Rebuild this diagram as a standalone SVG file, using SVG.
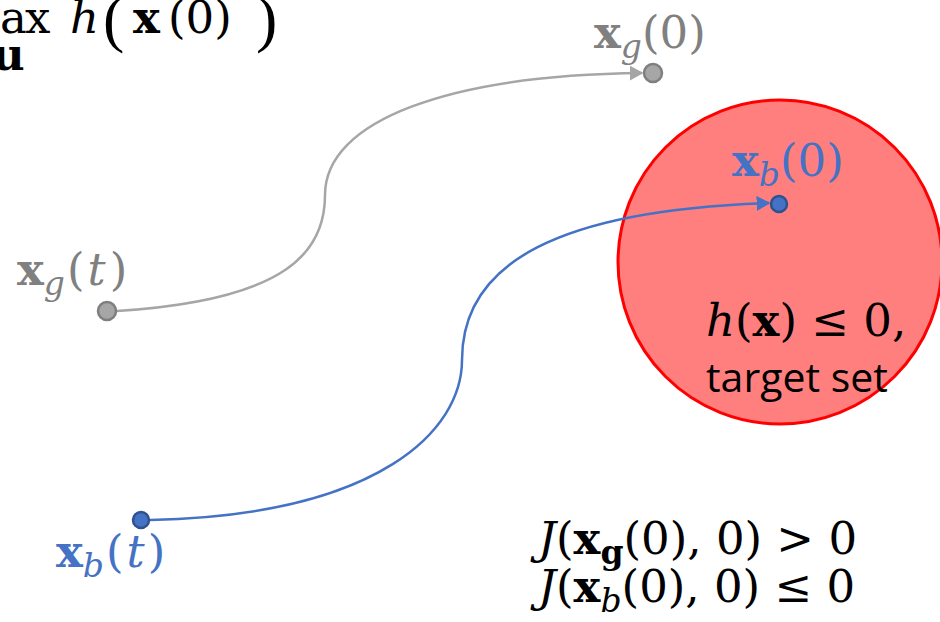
<svg xmlns="http://www.w3.org/2000/svg" width="940" height="622" viewBox="0 0 940 622">
<style>
.m{font-family:"DejaVu Serif","Liberation Serif",serif;font-size:45px}
.b{font-weight:bold;font-style:normal}
.i{font-style:italic}
.sub{font-size:33px}
.big{font-family:"Liberation Serif",serif;font-size:64px}
.gray{fill:#808080}
.blue{fill:#4472C4}
.blk{fill:#000}
.s{font-family:"Open Sans","Liberation Sans",sans-serif;font-size:41px;fill:#000}
</style>
<defs>
<marker id="ag" viewBox="0 0 10 10" refX="9" refY="5" markerWidth="5.5" markerHeight="6" preserveAspectRatio="none" orient="auto" markerUnits="strokeWidth"><path d="M0,0L10,5L0,10z" fill="#A6A6A6"/></marker>
<marker id="ab" viewBox="0 0 10 10" refX="9" refY="5" markerWidth="5.5" markerHeight="6" preserveAspectRatio="none" orient="auto" markerUnits="strokeWidth"><path d="M0,0L10,5L0,10z" fill="#4472C4"/></marker>
</defs>
<g id="objective">
<text class="m blk" y="33" font-size="44"><tspan x="-42 0 25">max</tspan><tspan class="i" x="70">h</tspan><tspan class="big" x="103" y="40">(</tspan><tspan class="b" x="133" y="33">x</tspan><tspan x="168">(0)</tspan><tspan class="big" x="256" y="40">)</tspan></text>
<text class="m blk b" x="-8" y="70" font-size="30">u</text>
</g>
<g id="target">
<circle cx="780" cy="262" r="162" fill="#FF7F7F" stroke="#FF0000" stroke-width="3"/>
<text class="m blk" x="706" y="336" font-size="44"><tspan class="i">h</tspan>(<tspan class="b">x</tspan>) ≤ 0,</text>
<text class="s" x="706" y="392">target set</text>
</g>
<g id="connectors" fill="none" stroke-width="2.5">
<path d="M117,311 C290,300 325,250 325,195 C325,120 450,75 642,73" stroke="#A6A6A6" marker-end="url(#ag)"/>
<path d="M150,520 C380,515 462,430 462,360 C462,262 560,210 769,203" stroke="#4472C4" marker-end="url(#ab)"/>
</g>
<g id="xg0">
<circle cx="653" cy="73" r="9" fill="#A6A6A6" stroke="#7F7F7F" stroke-width="2.5"/>
<text class="m gray" x="594" y="48"><tspan class="b">x</tspan><tspan class="i sub" dy="10">g</tspan><tspan dy="-10">(0)</tspan></text>
</g>
<g id="xgt">
<circle cx="107" cy="311" r="9" fill="#A6A6A6" stroke="#7F7F7F" stroke-width="2.5"/>
<text class="m gray" x="17" y="285"><tspan class="b">x</tspan><tspan class="i sub" dy="10">g</tspan><tspan dx="2" dy="-10">(</tspan><tspan class="i" dx="3">t</tspan><tspan dx="4">)</tspan></text>
</g>
<g id="xb0">
<circle cx="779" cy="204" r="8" fill="#4472C4" stroke="#2F528F" stroke-width="2.5"/>
<text class="m blue" x="732" y="176"><tspan class="b">x</tspan><tspan class="i sub" dy="10">b</tspan><tspan dy="-10">(0)</tspan></text>
</g>
<g id="xbt">
<circle cx="141" cy="520" r="8" fill="#4472C4" stroke="#2F528F" stroke-width="2.5"/>
<text class="m blue" x="56" y="567"><tspan class="b">x</tspan><tspan class="i sub" dy="10">b</tspan><tspan dx="2" dy="-10">(</tspan><tspan class="i" dx="3">t</tspan><tspan dx="3">)</tspan></text>
</g>
<g id="conditions">
<text class="m blk" x="538" y="554" font-size="42"><tspan class="i">J</tspan>(<tspan class="b">x</tspan><tspan class="b sub" dy="10">g</tspan><tspan dy="-10">(0), 0) &gt; 0</tspan></text>
<text class="m blk" x="538" y="602" font-size="42"><tspan class="i">J</tspan>(<tspan class="b">x</tspan><tspan class="i sub" dy="10">b</tspan><tspan dy="-10">(0), 0) ≤ 0</tspan></text>
</g>
</svg>
